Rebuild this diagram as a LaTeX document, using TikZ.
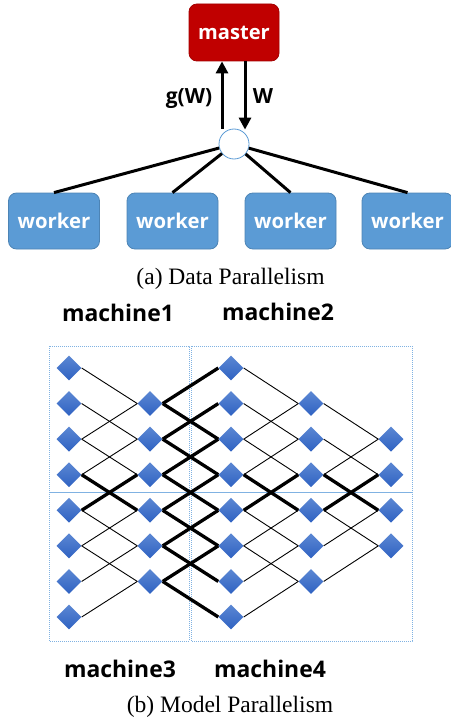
\documentclass[tikz,border=0pt]{standalone}
\usepackage{fontspec}
\setmainfont{Liberation Serif}
\newfontfamily\osans{Open Sans}
\usetikzlibrary{shapes.geometric,arrows.meta}
\definecolor{mred}{HTML}{C00000}
\definecolor{wblue}{HTML}{5B9BD5}
\definecolor{dtop}{HTML}{5B87D3}
\definecolor{dbot}{HTML}{2F62C2}
\definecolor{dotblue}{HTML}{80B2E2}
\begin{document}
\begin{tikzpicture}[x=1bp,y=-1bp,
  masterbox/.style={rectangle,rounded corners=8bp,fill=mred,draw=mred!85!black,line width=0.8bp,
    minimum width=90bp,minimum height=57bp,inner sep=0,text=white,font=\osans\bfseries\fontsize{20.2}{20.2}\selectfont},
  workerbox/.style={rectangle,rounded corners=8bp,fill=wblue,draw=wblue!85!black,line width=0.8bp,
    minimum width=91bp,minimum height=56bp,inner sep=0,text=white,font=\osans\bfseries\fontsize{20.4}{20.4}\selectfont},
  hub/.style={circle,draw=wblue,fill=white,line width=0.8bp,minimum size=30bp,inner sep=0},
  link/.style={line width=3bp},
  arr/.style={line width=3bp,-{Triangle[length=12bp,width=12bp]}},
  lbl/.style={font=\osans\bfseries\fontsize{21}{21}\selectfont,anchor=base,inner sep=0},
  mlbl/.style={font=\osans\bfseries\fontsize{23}{23}\selectfont,anchor=base,inner sep=0},
  captxt/.style={font=\fontsize{23.6}{23.6}\selectfont,anchor=base,inner sep=0},
  mbox/.style={draw=dotblue,line width=0.9bp,dash pattern=on 0.9bp off 1.1bp},
  dia/.style={diamond,aspect=1,minimum width=25bp,minimum height=25bp,inner sep=0,
    top color=dtop,bottom color=dbot,draw=none},
  thinl/.style={line width=0.9bp},
  thickl/.style={line width=3.3bp}
]
\useasboundingbox (0,0) rectangle (451,723);

% ---------- (a) Data parallelism ----------
\node[masterbox] (m) at (234,32.5) {master};
\node[hub] (c) at (234,144) {};
\node[workerbox] (w1) at (54,221) {worker};
\node[workerbox] (w2) at (172.5,221) {worker};
\node[workerbox] (w3) at (290.5,221) {worker};
\node[workerbox] (w4) at (407.5,221) {worker};

\draw[arr] ([xshift=-12bp]c.north) -- ([xshift=-12bp]m.south);
\draw[arr] ([xshift=11bp]m.south) -- ([xshift=11bp,yshift=-1bp]c.north);
\node[lbl] (gw) at (189,104) {g(W)};
\node[lbl] (wl) at (263,104) {W};

\foreach \w in {w1,w2,w3,w4} \draw[link] (c) -- (\w.north);

\node[captxt] (capa) at (230.5,284) {(a) Data Parallelism};

% ---------- (b) Model parallelism ----------
\node[mlbl] (m1) at (118,321) {machine1};
\node[mlbl] (m2) at (278,320) {machine2};
\node[mlbl] (m3) at (120,677) {machine3};
\node[mlbl] (m4) at (270,677) {machine4};

\draw[mbox] (49,346) rectangle (189,492);
\draw[mbox] (191,346) rectangle (412,492);
\draw[mbox] (49,492) rectangle (189,641);
\draw[mbox] (191,492) rectangle (412,641);

\foreach \c/\x/\rmin/\rmax in {1/69/1/8, 2/150/2/7, 3/231/1/8, 4/311/2/7, 5/391/3/6}
  \foreach \r in {\rmin,...,\rmax}
    \node[dia] (d\c-\r) at (\x,{368+(\r-1)*35.57}) {};

% col1 -> col2
\foreach \a/\b in {1/2,2/3,3/2,3/4,4/3,5/6,6/5,6/7,7/6,8/7}
  \draw[thinl] (d1-\a.east) -- (d2-\b.west);
\foreach \a/\b in {4/5,5/4}
  \draw[thickl] (d1-\a.east) -- (d2-\b.west);
% col2 -> col3
\foreach \a/\b in {2/1,2/3,3/2,3/4,4/3,4/5,5/4,5/6,6/5,6/7,7/6,7/8}
  \draw[thickl] (d2-\a.east) -- (d3-\b.west);
% col3 -> col4
\foreach \a/\b in {1/2,2/3,3/2,3/4,4/3,5/6,6/5,6/7,7/6,8/7}
  \draw[thinl] (d3-\a.east) -- (d4-\b.west);
\foreach \a/\b in {4/5,5/4}
  \draw[thickl] (d3-\a.east) -- (d4-\b.west);
% col4 -> col5
\foreach \a/\b in {2/3,3/4,4/3,5/6,6/5,7/6}
  \draw[thinl] (d4-\a.east) -- (d5-\b.west);
\foreach \a/\b in {4/5,5/4}
  \draw[thickl] (d4-\a.east) -- (d5-\b.west);

\node[captxt] (capb) at (230,712) {(b) Model Parallelism};
\end{tikzpicture}
\end{document}
